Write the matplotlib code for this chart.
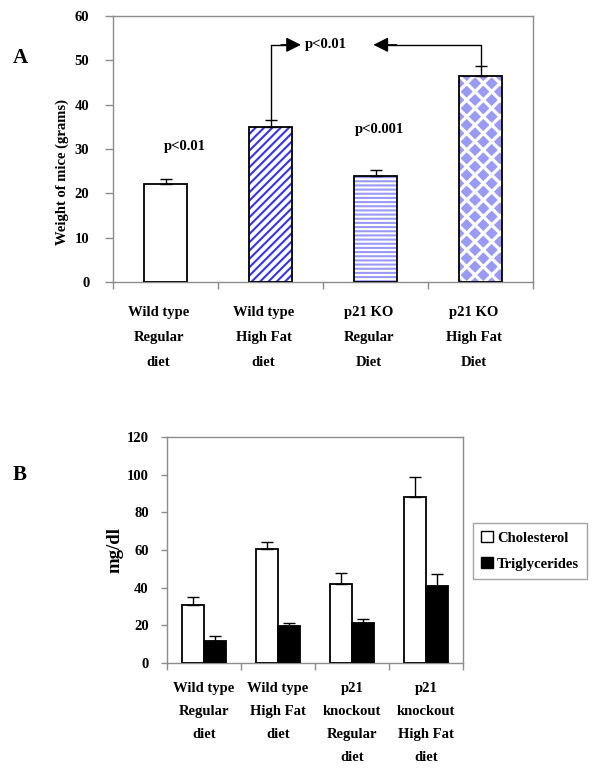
import matplotlib
matplotlib.use("Agg")
import matplotlib.pyplot as plt
import matplotlib.transforms as mtransforms
import numpy as np
from matplotlib.patches import Patch

plt.rcParams['font.family'] = ['Liberation Serif', 'DejaVu Serif']
plt.rcParams['font.weight'] = 'bold'

# ---- Panel A data ----
a_labels = ["Wild type\nRegular\ndiet", "Wild type\nHigh Fat\ndiet",
            "p21 KO\nRegular\nDiet", "p21 KO\nHigh Fat\nDiet"]
a_values = [22.0, 35.0, 24.0, 46.5]
a_errors = [1.2, 1.5, 1.2, 2.3]
a_ticks = [0, 10, 20, 30, 40, 50, 60]

# ---- Panel B data ----
b_labels = ["Wild type\nRegular\ndiet", "Wild type\nHigh Fat\ndiet",
            "p21\nknockout\nRegular\ndiet", "p21\nknockout\nHigh Fat\ndiet"]
chol_values = [31.0, 60.3, 42.0, 88.0]
chol_errors = [4.0, 3.8, 6.0, 11.0]
trig_values = [11.5, 19.5, 21.3, 41.0]
trig_errors = [2.8, 1.5, 2.3, 6.5]
b_ticks = [0, 20, 40, 60, 80, 100, 120]
series_names = ["Cholesterol", "Triglycerides"]

GRAY = '#8c8c8c'
FS = 10.5

fig = plt.figure(figsize=(6.0, 7.79), dpi=100)

def style_axes(ax, n, yticks, ypad, ylen):
    for s in ax.spines.values():
        s.set_color(GRAY)
        s.set_linewidth(1.0)
    ax.set_xlim(-0.5, n - 0.5)
    ax.set_ylim(yticks[0], yticks[-1])
    ax.set_yticks(yticks)
    ax.set_xticks(np.arange(n + 1) - 0.5)
    ax.set_xticklabels([])
    ax.tick_params(axis='x', which='major', direction='out', length=5, color=GRAY, width=1)
    ax.tick_params(axis='y', direction='out', length=ylen, color=GRAY, width=1,
                   pad=ypad, labelsize=FS)

# ================= Panel A =================
axA = fig.add_axes([113/600, 1-282/779, 420/600, 266/779])
style_axes(axA, 4, a_ticks, 11, 6)
x = np.arange(len(a_values))
w = 0.405

styles = [
    dict(fc='white', hatch=None, hc='black', hlw=1.0),
    dict(fc='white', hatch='////', hc='#3434ec', hlw=1.5),
    dict(fc='white', hatch='----', hc='#9a9af5', hlw=1.5),
    dict(fc='#9a9af5', hatch='xx', hc='white', hlw=2.3),
]
for i, (xi, v) in enumerate(zip(x, a_values)):
    st = styles[i]
    if st['hatch']:
        with plt.rc_context({'hatch.linewidth': st['hlw']}):
            b = axA.bar(xi, v, width=w, facecolor=st['fc'], edgecolor=st['hc'],
                        linewidth=0, hatch=st['hatch'], zorder=2)
            for p in b:
                if hasattr(p, 'set_hatch_linewidth'):
                    p.set_hatch_linewidth(st['hlw'])
    else:
        axA.bar(xi, v, width=w, facecolor=st['fc'], edgecolor='none', zorder=2)
    axA.bar(xi, v, width=w, facecolor='none', edgecolor='black', linewidth=1.3, zorder=3)
axA.errorbar(x, a_values, yerr=[np.zeros(4), a_errors], fmt='none', ecolor='black',
             elinewidth=1, capsize=4.5, capthick=1, zorder=4)

axA.set_xticks(x, minor=True)
axA.set_xticklabels(a_labels, minor=True)
axA.tick_params(axis='x', which='minor', length=0, pad=17, labelsize=FS)
offA = mtransforms.ScaledTranslation(-7/100, 0, fig.dpi_scale_trans)
for t in axA.get_xticklabels(minor=True):
    t.set_linespacing(2.2)
    t.set_transform(t.get_transform() + offA)

axA.set_ylabel("Weight of mice (grams)", fontsize=FS, fontweight='bold')
axA.yaxis.set_label_coords(-0.105, 0.414)

# annotations
axA.text(-0.02, 30.5, "p<0.01", fontsize=FS, fontweight='bold', ha='left', va='center')
axA.text(1.80, 34.4, "p<0.001", fontsize=FS, fontweight='bold', ha='left', va='center')
axA.text(1.33, 53.6, "p<0.01", fontsize=FS, fontweight='bold', ha='left', va='center')
yh = 53.5
axA.plot([1, 1, 1.16], [a_values[1] + a_errors[1], yh, yh], color='black', lw=1, zorder=5)
axA.plot([3, 3, 2.1], [a_values[3] + a_errors[3], yh, yh], color='black', lw=1, zorder=5)
ap = dict(arrowstyle='-|>,head_length=0.9,head_width=0.45', mutation_scale=10,
          color='black', lw=1, shrinkA=0, shrinkB=0)
axA.annotate('', xy=(1.29, yh), xytext=(1.1, yh), arrowprops=ap)
axA.annotate('', xy=(1.98, yh), xytext=(2.2, yh), arrowprops=ap)

fig.text(13/600, 1-58/779, "A", fontsize=15, fontweight='bold', ha='left', va='center')

# ================= Panel B =================
axB = fig.add_axes([166.8/600, 1-663/779, 296/600, 226/779])
style_axes(axB, 4, b_ticks, 9, 4)
xb = np.arange(len(chol_values))
wb = 0.295
axB.bar(xb - wb/2, chol_values, width=wb, facecolor='white', edgecolor='black',
        linewidth=1.3, zorder=3)
axB.bar(xb + wb/2, trig_values, width=wb, facecolor='black', edgecolor='black',
        linewidth=1.3, zorder=3)
axB.errorbar(xb - wb/2, chol_values, yerr=[np.zeros(4), chol_errors], fmt='none',
             ecolor='black', elinewidth=1, capsize=4.5, capthick=1, zorder=4)
axB.errorbar(xb + wb/2, trig_values, yerr=[np.zeros(4), trig_errors], fmt='none',
             ecolor='black', elinewidth=1, capsize=4.5, capthick=1, zorder=4)

axB.set_xticks(xb, minor=True)
axB.set_xticklabels(b_labels, minor=True)
axB.tick_params(axis='x', which='minor', length=0, pad=14, labelsize=FS)
for t in axB.get_xticklabels(minor=True):
    t.set_linespacing(2.0)

axB.set_ylabel("mg/dl", fontsize=13.5, fontweight='bold')
axB.yaxis.set_label_coords(-0.145, 0.5)

handles = [Patch(facecolor='white', edgecolor='black', label=series_names[0]),
           Patch(facecolor='black', edgecolor='black', label=series_names[1])]
leg = fig.legend(handles=handles, loc='upper left',
                 bbox_to_anchor=(473/600, 1-523/779), fancybox=False,
                 edgecolor=GRAY, prop={'weight': 'bold', 'size': FS},
                 handlelength=0.8, handleheight=0.8, handletextpad=0.3,
                 labelspacing=0.85, borderpad=0.55, borderaxespad=0)
leg.get_frame().set_linewidth(1.0)

fig.text(13/600, 1-475/779, "B", fontsize=15, fontweight='bold', ha='left', va='center')

fig.savefig("out.png", dpi=100)
